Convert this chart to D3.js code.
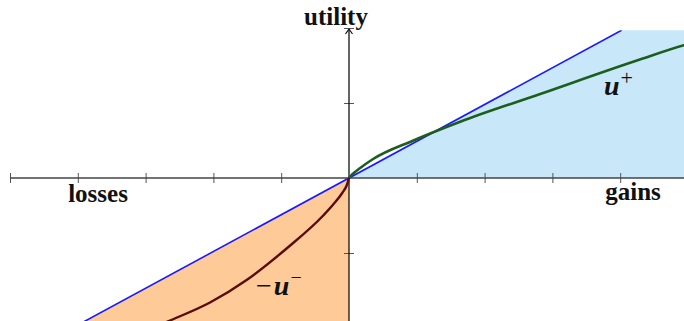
<!DOCTYPE html>
<html>
<head>
<meta charset="utf-8">
<script src="https://cdn.jsdelivr.net/npm/d3@7"></script>
<style>
  body { margin: 0; background: #fff; }
  svg { display: block; }
</style>
</head>
<body>
<script>
  // reference line slope (blue)
  const slope = [0.49];

  // u+ (gains side)
  const gainX = [0, 0.05, 0.16, 0.35, 0.95, 1.64, 2.82, 4.29, 4.94, 5.1];
  const gainY = [0, 0.05, 0.13, 0.25, 0.50, 0.75, 1.12, 1.58, 1.77, 1.81];

  // -u- (losses side)
  const lossX = [0, -0.03, -0.1, -0.23, -0.38, -0.92, -1.51, -2.05, -2.64, -2.9];
  const lossY = [0, -0.09, -0.2, -0.35, -0.50, -0.94, -1.36, -1.66, -1.90, -2.0];

  const xTicks = [-5, -4, -3, -2, -1, 1, 2, 3, 4];
  const yTicks = [-1, 1, 2];

  const width = 684, height = 321;

  const svg = d3.select('body')
    .append('svg')
    .attr('width', width)
    .attr('height', height);

  const x = d3.scaleLinear().domain([-5, 5]).range([10, 688]);
  const y = d3.scaleLinear().domain([-2, 2]).range([328, 28]);

  const yTop = 1.97;
  const xRight = x.invert(width);

  svg.append('clipPath').attr('id', 'plot')
    .append('rect')
    .attr('x', 0).attr('y', y(yTop))
    .attr('width', width).attr('height', height - y(yTop));

  const k = slope[0];

  // fills
  const posArea = d3.area()
    .x(function(d) { return x(d); })
    .y0(y(0))
    .y1(function(d) { return y(Math.min(k * d, yTop)); });
  svg.append('path')
    .attr('d', posArea([0, yTop / k, xRight]))
    .attr('fill', '#c8e8f9');

  const negArea = d3.area()
    .x(function(d) { return x(d); })
    .y0(function(d) { return y(k * d); })
    .y1(height);
  svg.append('path')
    .attr('clip-path', 'url(#plot)')
    .attr('d', negArea([-4.5, 0]))
    .attr('fill', '#fdca98');

  // axes
  const xAxis = d3.axisBottom(x).tickValues(xTicks).tickSize(10).tickFormat('');
  const gx = svg.append('g')
    .attr('transform', 'translate(0,' + (y(0) - 5) + ')')
    .call(xAxis);
  gx.select('.domain').remove();
  gx.selectAll('line').attr('stroke', '#555').attr('stroke-width', 1);

  const yAxis = d3.axisLeft(y).tickValues(yTicks).tickSize(10).tickFormat('');
  const gy = svg.append('g')
    .attr('transform', 'translate(' + (x(0) + 5) + ',0)')
    .call(yAxis);
  gy.select('.domain').remove();
  gy.selectAll('line').attr('stroke', '#555').attr('stroke-width', 1);

  svg.append('line')
    .attr('x1', x(-5)).attr('x2', width)
    .attr('y1', y(0)).attr('y2', y(0))
    .attr('stroke', '#444').attr('stroke-width', 1.3);

  svg.append('line')
    .attr('x1', x(0)).attr('x2', x(0))
    .attr('y1', height).attr('y2', y(2) + 1)
    .attr('stroke', '#111').attr('stroke-width', 1.3);

  // arrow head
  svg.append('path')
    .attr('d', 'M' + (x(0) - 3.5) + ',' + (y(2) + 6) + ' L' + x(0) + ',' + (y(2) + 1) + ' L' + (x(0) + 3.5) + ',' + (y(2) + 6))
    .attr('fill', 'none').attr('stroke', '#111').attr('stroke-width', 1.2);

  // reference line
  const line = d3.line()
    .x(function(d) { return x(d[0]); })
    .y(function(d) { return y(d[1]); });

  svg.append('path')
    .attr('clip-path', 'url(#plot)')
    .attr('d', line([[-4.5, -4.5 * k], [yTop / k, yTop]]))
    .attr('fill', 'none')
    .attr('stroke', '#1a1aff')
    .attr('stroke-width', 1.6);

  const curve = d3.line()
    .x(function(d) { return x(d[0]); })
    .y(function(d) { return y(d[1]); })
    .curve(d3.curveMonotoneX);

  svg.append('path')
    .attr('clip-path', 'url(#plot)')
    .attr('d', curve(gainX.map(function(v, i) { return [v, gainY[i]]; })))
    .attr('fill', 'none')
    .attr('stroke', '#1d5e1d')
    .attr('stroke-width', 2.6);

  svg.append('path')
    .attr('clip-path', 'url(#plot)')
    .attr('d', curve(lossX.map(function(v, i) { return [v, lossY[i]]; }).reverse()))
    .attr('fill', 'none')
    .attr('stroke', '#5a0b0b')
    .attr('stroke-width', 2.4);

  // labels
  const serif = "'Liberation Serif', 'DejaVu Serif', serif";

  function label(t, lx, ly) {
    svg.append('text')
      .text(t)
      .attr('x', lx).attr('y', ly)
      .attr('text-anchor', 'middle')
      .attr('font-family', serif)
      .attr('font-weight', 'bold')
      .attr('font-size', '25px')
      .attr('fill', '#111');
  }
  label('utility', 336, 25);
  label('losses', 98, 202);
  label('gains', 633, 200);

  const up = svg.append('text')
    .attr('x', 604).attr('y', 95)
    .attr('font-family', serif)
    .attr('font-style', 'italic')
    .attr('font-weight', 'bold')
    .attr('font-size', '28px')
    .attr('fill', '#111');
  up.append('tspan').text('u');
  up.append('tspan').text('+')
    .attr('dx', 1)
    .attr('dy', -10)
    .attr('font-size', '22px')
    .attr('font-style', 'normal')
    .attr('font-weight', 'normal');

  const um = svg.append('text')
    .attr('x', 256).attr('y', 295)
    .attr('font-family', serif)
    .attr('font-style', 'italic')
    .attr('font-weight', 'bold')
    .attr('font-size', '28px')
    .attr('fill', '#111');
  um.append('tspan').text('\u2212').attr('font-style', 'normal').attr('font-weight', 'normal');
  um.append('tspan').text('u').attr('dx', 2);
  um.append('tspan').text('\u2212')
    .attr('dx', 1)
    .attr('dy', -11)
    .attr('font-size', '20px')
    .attr('font-style', 'normal')
    .attr('font-weight', 'normal');
</script>
</body>
</html>
